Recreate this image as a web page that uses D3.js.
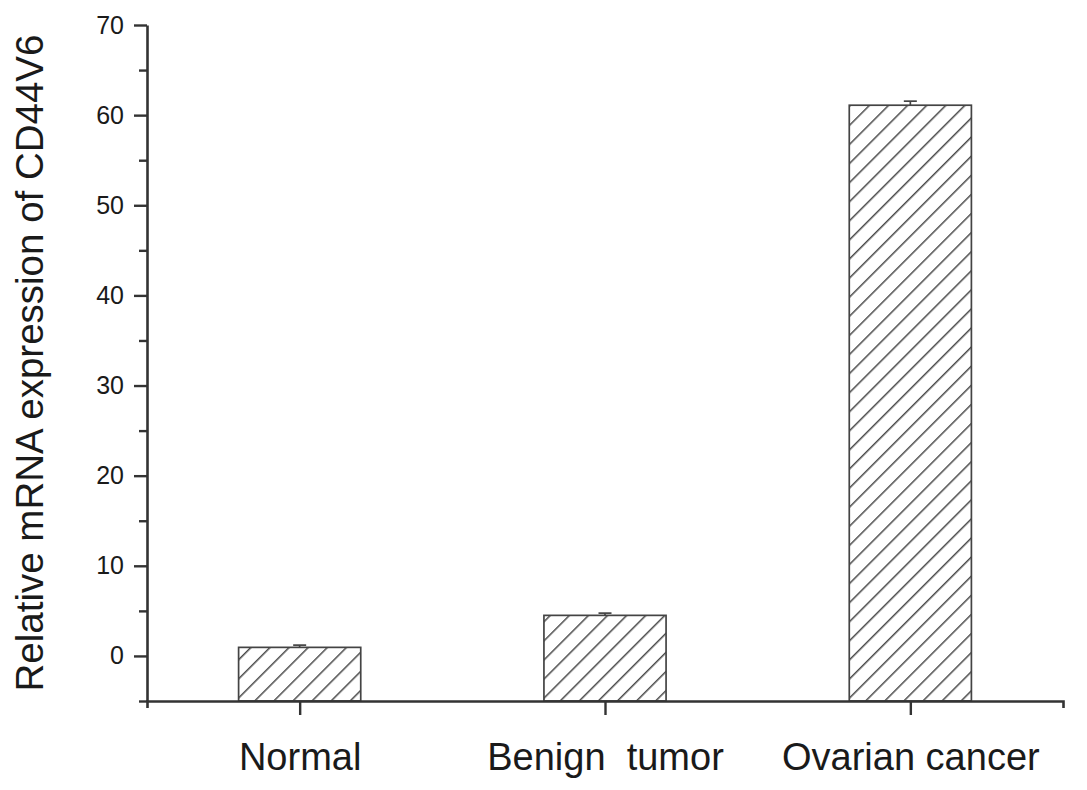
<!DOCTYPE html>
<html>
<head>
<meta charset="utf-8">
<script src="https://cdn.jsdelivr.net/npm/d3@7"></script>
<style>
  body { margin: 0; background: #fff; }
  text { font-family: Arial, "Liberation Sans", sans-serif; fill: #1a1a1a; }
</style>
</head>
<body>
<div id="container"></div>
<script>
/* DATA */
const categories = ["Normal", "Benign  tumor", "Ovarian cancer"];
const values = [0.95, 4.5, 61.1];
const errors = [0.25, 0.25, 0.45];
const yMajorTicks = [0, 10, 20, 30, 40, 50, 60, 70];
const yMinorTicks = [-5, 5, 15, 25, 35, 45, 55, 65];

/* LAYOUT */
const width = 1087,
  height = 790,
  margin = { top: 25, bottom: 89, left: 147, right: 24 },
  axisColor = "#333";

const svg = d3.select("#container")
  .append("svg")
  .attr("width", width)
  .attr("height", height);

// hatch pattern for the bars
svg.append("defs")
  .append("pattern")
  .attr("id", "hatch")
  .attr("patternUnits", "userSpaceOnUse")
  .attr("width", 13.5)
  .attr("height", 13.5)
  .attr("patternTransform", "rotate(45)")
  .append("line")
  .attr("x1", 0).attr("y1", 0)
  .attr("x2", 0).attr("y2", 13.5)
  .attr("stroke", "#4a4a4a")
  .attr("stroke-width", 3);

// + SCALES
const xScale = d3.scaleLinear()
  .domain([0.5, 3.5])
  .range([margin.left, width - margin.right]);

const yScale = d3.scaleLinear()
  .domain([-5, 70])
  .range([height - margin.bottom, margin.top]);

const barWidth = (xScale(1.4) - xScale(1));

// + BARS
const bars = svg.append("g").attr("class", "bars");

bars.selectAll("rect")
  .data(values)
  .join("rect")
  .attr("x", (d, i) => xScale(i + 1) - barWidth / 2)
  .attr("y", d => yScale(d))
  .attr("width", barWidth)
  .attr("height", d => yScale(-5) - yScale(d))
  .attr("fill", "url(#hatch)")
  .attr("stroke", "#444")
  .attr("stroke-width", 1.7);

// + ERROR BARS (upper only)
const err = svg.append("g").attr("class", "errors")
  .attr("stroke", "#444")
  .attr("stroke-width", 1.7);

err.selectAll("line.stem")
  .data(values)
  .join("line")
  .attr("class", "stem")
  .attr("x1", (d, i) => xScale(i + 1))
  .attr("x2", (d, i) => xScale(i + 1))
  .attr("y1", d => yScale(d))
  .attr("y2", (d, i) => yScale(d + errors[i]));

err.selectAll("line.cap")
  .data(values)
  .join("line")
  .attr("class", "cap")
  .attr("x1", (d, i) => xScale(i + 1) - 6.5)
  .attr("x2", (d, i) => xScale(i + 1) + 6.5)
  .attr("y1", (d, i) => yScale(d + errors[i]))
  .attr("y2", (d, i) => yScale(d + errors[i]));

// + Y AXIS
const yAxis = svg.append("g")
  .attr("class", "axis axis--y")
  .attr("transform", `translate(${margin.left},0)`)
  .call(d3.axisLeft(yScale).tickValues(yMajorTicks).tickSize(13).tickPadding(10).tickSizeOuter(0));

yAxis.call(g => g.select(".domain").attr("stroke", axisColor).attr("stroke-width", 2.6))
  .call(g => g.selectAll(".tick line").attr("stroke", axisColor).attr("stroke-width", 2.4))
  .call(g => g.selectAll(".tick text")
    .attr("font-size", 25)
    .attr("fill", "#1a1a1a")
    .style("font-family", "Arial, 'Liberation Sans', sans-serif"));

svg.append("g")
  .attr("class", "axis axis--y-minor")
  .attr("transform", `translate(${margin.left},0)`)
  .call(d3.axisLeft(yScale).tickValues(yMinorTicks).tickSize(8).tickFormat(""))
  .call(g => g.select(".domain").remove())
  .call(g => g.selectAll(".tick line").attr("stroke", axisColor).attr("stroke-width", 2.4));

// + X AXIS
const xAxis = svg.append("g")
  .attr("class", "axis axis--x")
  .attr("transform", `translate(0,${yScale(-5)})`)
  .call(d3.axisBottom(xScale)
    .tickValues([1, 2, 3])
    .tickSize(14)
    .tickSizeOuter(7)
    .tickPadding(28)
    .tickFormat((d, i) => categories[i]));

xAxis.call(g => g.select(".domain").attr("stroke", axisColor).attr("stroke-width", 2.6))
  .call(g => g.selectAll(".tick line").attr("stroke", axisColor).attr("stroke-width", 2.4))
  .call(g => g.selectAll(".tick text")
    .attr("font-size", 38)
    .attr("fill", "#1a1a1a")
    .style("white-space", "pre")
    .style("font-family", "Arial, 'Liberation Sans', sans-serif"));

// + Y AXIS TITLE
svg.append("text")
  .attr("transform", `translate(43,${(yScale(70) + yScale(-5)) / 2}) rotate(-90)`)
  .attr("text-anchor", "middle")
  .attr("font-size", 38.5)
  .text("Relative mRNA expression of CD44V6");
</script>
</body>
</html>
